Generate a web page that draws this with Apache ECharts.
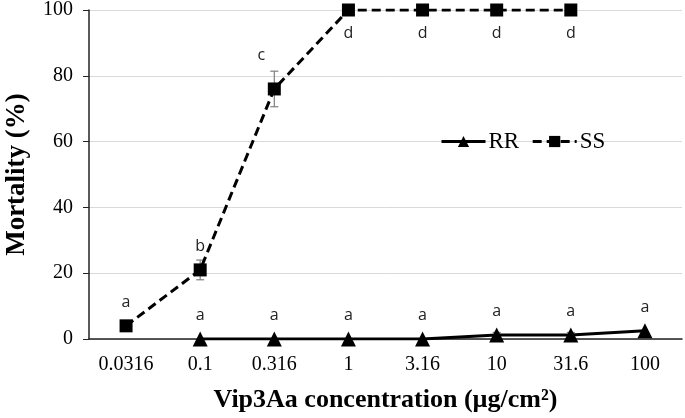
<!DOCTYPE html>
<html>
<head>
<meta charset="utf-8">
<script src="https://cdn.jsdelivr.net/npm/echarts@6/dist/echarts.min.js"></script>
<style>
  html, body { margin: 0; padding: 0; background: #fff; }
  #chart { width: 685px; height: 418px; }
</style>
</head>
<body>
<div id="chart"></div>
<script>
const concentrations = ["0.0316", "0.1", "0.316", "1", "3.16", "10", "31.6", "100"];
const rrValues = [null, 0, 0, 0, 0, 1.2, 1.2, 2.5];
const rrErr = [0, 0, 0, 0, 0, 0.8, 0.8, 0];
const rrLetters = ["", "a", "a", "a", "a", "a", "a", "a"];
const ssValues = [4, 21, 76, 100, 100, 100, 100, null];
const ssErr = [0, 3, 5.4, 0, 0, 0, 0, 0];
const ssLetters = ["a", "b", "c", "d", "d", "d", "d", ""];

const serif = "'Liberation Serif', 'Times New Roman', serif";
const sans = "'Open Sans', 'Liberation Sans', sans-serif";

const chart = echarts.init(document.getElementById("chart"));

// error bars drawn through the axis scale
const errorBars = (values, errs) =>
  values
    .map((v, i) => (v != null && errs[i] > 0 ? [i, v - errs[i], v + errs[i]] : null))
    .filter((d) => d);

const renderErr = (params, api) => {
  const lo = api.coord([api.value(0), api.value(1)]);
  const hi = api.coord([api.value(0), api.value(2)]);
  const w = 4;
  const style = { stroke: "#7f7f7f", lineWidth: 1.2 };
  return {
    type: "group",
    children: [
      { type: "line", shape: { x1: lo[0], y1: lo[1], x2: hi[0], y2: hi[1] }, style },
      { type: "line", shape: { x1: lo[0] - w, y1: lo[1], x2: lo[0] + w, y2: lo[1] }, style },
      { type: "line", shape: { x1: hi[0] - w, y1: hi[1], x2: hi[0] + w, y2: hi[1] }, style },
    ],
  };
};

const letterLabel = (letters, position, distance) => ({
  show: true,
  position,
  distance,
  color: "#222",
  fontFamily: sans,
  fontSize: 16,
  formatter: (p) => letters[p.dataIndex],
});

chart.setOption({
  animation: false,
  grid: { left: 89, right: 3, top: 10, bottom: 79, outerBoundsMode: "none", containLabel: false },
  legend: {
    left: 435,
    top: 125,
    itemWidth: 44,
    itemHeight: 14,
    itemGap: 12,
    data: ["RR", "SS"],
    lineStyle: { width: 3 },
    textStyle: { fontFamily: serif, fontSize: 23, color: "#000", padding: [0, 0, 0, -2] },
  },
  xAxis: {
    type: "category",
    data: concentrations,
    boundaryGap: true,
    name: "Vip3Aa concentration (µg/cm²)",
    nameLocation: "middle",
    nameGap: 48,
    nameTextStyle: { fontFamily: serif, fontSize: 26, fontWeight: "bold", color: "#000" },
    axisLine: { lineStyle: { color: "#222", width: 1.5 } },
    axisTick: { length: 6, lineStyle: { color: "#222" } },
    axisLabel: { fontFamily: serif, fontSize: 20, color: "#000", margin: 16 },
  },
  yAxis: {
    type: "value",
    min: 0,
    max: 100,
    interval: 20,
    name: "Mortality (%)",
    nameLocation: "middle",
    nameGap: 58,
    nameTextStyle: { fontFamily: serif, fontSize: 27, fontWeight: "bold", color: "#000" },
    axisLine: { show: true, lineStyle: { color: "#222", width: 1.5 } },
    axisTick: { show: true, length: 6, lineStyle: { color: "#222" } },
    axisLabel: { fontFamily: serif, fontSize: 20, color: "#000", margin: 16 },
    splitLine: { lineStyle: { color: "#d9d9d9", width: 1 } },
  },
  series: [
    {
      name: "RR",
      type: "line",
      data: rrValues,
      symbol: "triangle",
      symbolSize: 15,
      itemStyle: { color: "#000" },
      lineStyle: { color: "#000", width: 3 },
      label: letterLabel(rrLetters, "top", 8),
      z: 3,
    },
    {
      name: "SS",
      type: "line",
      data: ssValues.map((v, i) =>
        i === 2
          ? { value: v, label: { position: "top", offset: [-13, -10] } }
          : ssLetters[i] === "d"
          ? { value: v, label: { position: "bottom", distance: 9 } }
          : v
      ),
      symbol: "rect",
      symbolSize: 13,
      itemStyle: { color: "#000" },
      lineStyle: { color: "#000", width: 3, type: [9, 5] },
      label: letterLabel(ssLetters, "top", 9),
      z: 3,
    },
    {
      type: "custom",
      renderItem: renderErr,
      data: errorBars(ssValues, ssErr),
      z: 2,
      silent: true,
    },
    {
      type: "custom",
      renderItem: renderErr,
      data: errorBars(rrValues, rrErr),
      z: 2,
      silent: true,
    },
  ],
});
</script>
</body>
</html>
